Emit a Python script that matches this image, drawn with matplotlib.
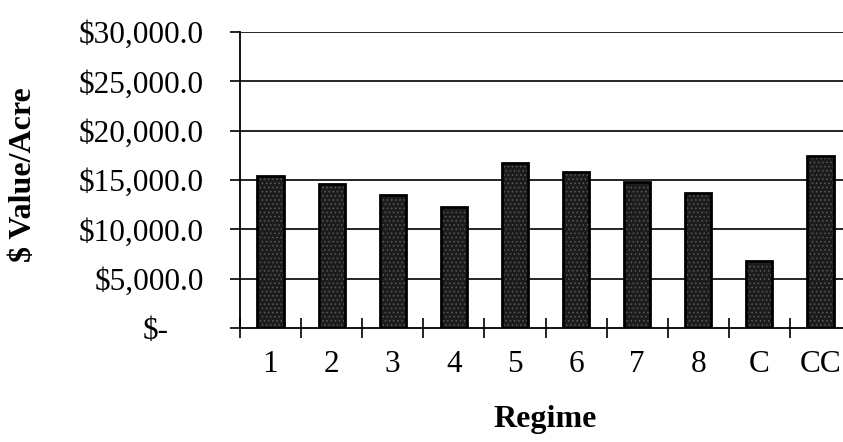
import matplotlib
matplotlib.use('Agg')
import matplotlib.pyplot as plt
import matplotlib.transforms as mtransforms
import numpy as np

regimes = ['1', '2', '3', '4', '5', '6', '7', '8', 'C', 'CC']
value_per_acre = [15400, 14600, 13500, 12300, 16700, 15800, 14800, 13700, 6800, 17400]
y_ticks = [0, 5000, 10000, 15000, 20000, 25000, 30000]
y_labels = ['$-', '$5,000.0', '$10,000.0', '$15,000.0', '$20,000.0', '$25,000.0', '$30,000.0']

plt.rcParams['font.family'] = ['Liberation Serif', 'DejaVu Serif']
plt.rcParams['hatch.linewidth'] = 0.6

fig = plt.figure(figsize=(8.43, 4.42), dpi=100)
ax = fig.add_axes([240 / 843, 114 / 442, 611 / 843, 296 / 442])

x = np.arange(len(regimes))
# dark stippled bars: solid fill, grey dot texture, black outline
ax.bar(x, value_per_acre, width=0.43, color='#1c1c1c', edgecolor='none', zorder=2)
ax.bar(x, value_per_acre, width=0.43, fill=False, hatch='....', edgecolor='#5a5a5a',
       linewidth=0, zorder=3)
ax.bar(x, value_per_acre, width=0.43, fill=False, edgecolor='black', linewidth=2.0, zorder=4)

ax.set_xlim(-0.5, len(regimes) - 0.5)
ax.set_ylim(0, 30000)

ax.set_yticks(y_ticks)
ax.set_yticklabels(y_labels, fontsize=22.5)
ax.tick_params(axis='y', direction='out', length=7, width=1.2, pad=19)
# the zero label sits further left, like an accounting format
zero_lab = ax.get_yticklabels()[0]
zero_lab.set_transform(zero_lab.get_transform() +
                       mtransforms.ScaledTranslation(-35 / 100, 0, fig.dpi_scale_trans))

# tick marks between categories, labels at the centres
ax.set_xticks(np.arange(-0.5, len(regimes) - 0.5, 1.0))
ax.set_xticklabels([])
ax.tick_params(axis='x', which='major', direction='inout', length=14, width=1.2)
ax.set_xticks(x, minor=True)
ax.set_xticklabels(regimes, minor=True, fontsize=22.5)
ax.tick_params(axis='x', which='minor', length=0, pad=16)

for v in y_ticks[1:]:
    ax.axhline(v, color='black', linewidth=1.2, zorder=1)

for side in ['top', 'right']:
    ax.spines[side].set_visible(False)
ax.spines['left'].set_linewidth(1.3)
ax.spines['bottom'].set_linewidth(1.3)

fig.text(24 / 843, 1 - 175 / 442, '$ Value/Acre', rotation=90, ha='center', va='center',
         fontsize=23, fontweight='bold')
fig.text(545 / 843, 1 - 420 / 442, 'Regime', ha='center', va='center',
         fontsize=23, fontweight='bold')

fig.savefig('out.png', dpi=100)
